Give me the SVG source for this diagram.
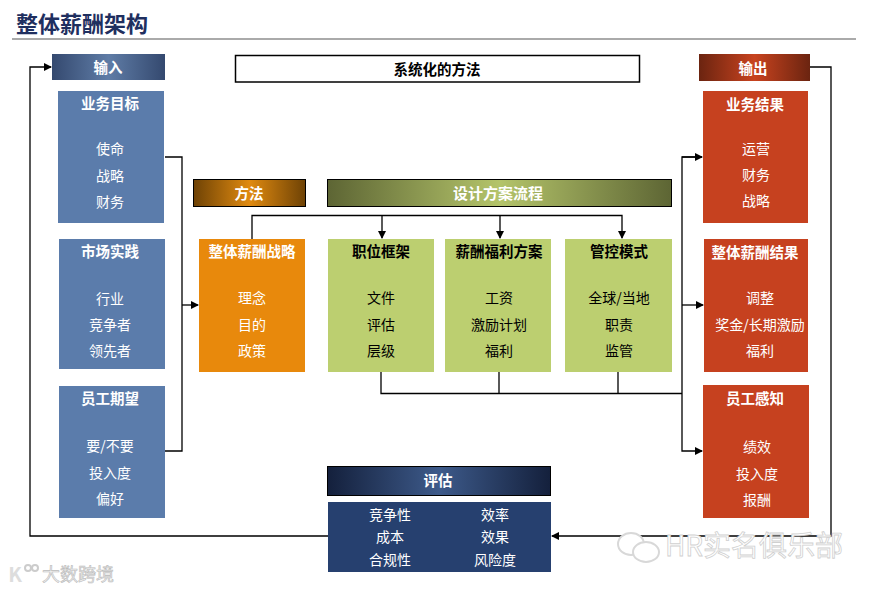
<svg xmlns="http://www.w3.org/2000/svg" width="869" height="591" viewBox="0 0 869 591">
<style>
text{font-family:"Noto Sans CJK SC","Liberation Sans",sans-serif;text-anchor:middle;font-size:14px;fill:#fff}
.h{font-weight:700;font-size:14.500px}
.k{fill:#000}
.c{fill:none;stroke:#000;stroke-width:1.300}
.blue{fill:#5b7cab}.red{fill:#c6411f}.or{fill:#e8890c}.gr{fill:#bccf70}.nv{fill:#26406f}
</style>
<defs>
<linearGradient id="gBlue"><stop offset="0" stop-color="#34496f"/><stop offset=".5" stop-color="#5f7ca6"/><stop offset="1" stop-color="#34496f"/></linearGradient>
<linearGradient id="gRed"><stop offset="0" stop-color="#6b2410"/><stop offset=".5" stop-color="#c8431f"/><stop offset="1" stop-color="#6b2410"/></linearGradient>
<linearGradient id="gOr"><stop offset="0" stop-color="#6e4205"/><stop offset=".5" stop-color="#e08a10"/><stop offset="1" stop-color="#6e4205"/></linearGradient>
<linearGradient id="gGr"><stop offset="0" stop-color="#5d6534"/><stop offset=".5" stop-color="#b4c46a"/><stop offset="1" stop-color="#5d6534"/></linearGradient>
<linearGradient id="gNv"><stop offset="0" stop-color="#14203c"/><stop offset=".5" stop-color="#3d5a8a"/><stop offset="1" stop-color="#14203c"/></linearGradient>
<marker id="a" markerWidth="8" markerHeight="8" refX="7" refY="4" orient="auto" markerUnits="userSpaceOnUse"><path d="M0 0L8 4L0 8Z" fill="#000"/></marker>
</defs>
<g id="title"><text x="82" y="32" style="font-size:22px;fill:#1f2f5f;font-weight:700">整体薪酬架构</text><rect x="12" y="38" width="844" height="2" fill="#aaa"/></g>
<g id="connectors">
<path class="c" d="M165 157H182V451H165"/>
<path class="c" d="M182 305H198" marker-end="url(#a)"/>
<path class="c" d="M328 536H30V67H51" marker-end="url(#a)"/>
<path class="c" d="M810 67H831V536H552" marker-end="url(#a)"/>
<path class="c" d="M702 157H682V451H702" marker-end="url(#a)"/>
<path class="c" d="M682 157H702" marker-end="url(#a)"/>
<path class="c" d="M682 305H703" marker-end="url(#a)"/>
<path class="c" d="M381 372V393.500H682M499 372V393M618 372V393"/>
<path class="c" d="M252 239V215.500H622V238" marker-end="url(#a)"/>
<path class="c" d="M382 216V238" marker-end="url(#a)"/>
<path class="c" d="M500 216V238" marker-end="url(#a)"/>
</g>
<g id="input"><rect x="52" y="54" width="113" height="26" fill="url(#gBlue)"/><text class="h" x="108" y="73">输入</text></g>
<g id="system"><rect x="235.500" y="55.500" width="404" height="26.500" fill="#fff" stroke="#000" stroke-width="1.500"/><text class="h" x="437" y="75" style="fill:#000;font-size:14.500px">系统化的方法</text></g>
<g id="output"><rect x="699" y="54" width="111" height="27" fill="url(#gRed)"/><text class="h" x="753" y="74">输出</text></g>
<g id="method"><rect x="193.500" y="179.500" width="112" height="27" fill="url(#gOr)" stroke="#000"/><text class="h" x="249" y="199">方法</text></g>
<g id="design"><rect x="327.500" y="179.500" width="344" height="27" fill="url(#gGr)" stroke="#000"/><text class="h" x="498" y="199" style="font-size:15px">设计方案流程</text></g>
<g id="biz-goal"><rect class="blue" x="58" y="91" width="106" height="132"/><text class="h" x="110" y="109">业务目标</text><text x="110" y="154">使命</text><text x="110" y="181">战略</text><text x="110" y="207">财务</text></g>
<g id="market"><rect class="blue" x="59" y="239" width="106" height="130"/><text class="h" x="110" y="257">市场实践</text><text x="110" y="304">行业</text><text x="110" y="330">竞争者</text><text x="110" y="356">领先者</text></g>
<g id="employee-exp"><rect class="blue" x="59" y="386" width="106" height="132"/><text class="h" x="110" y="404">员工期望</text><text x="110" y="451">要/不要</text><text x="110" y="478">投入度</text><text x="110" y="504">偏好</text></g>
<g id="strategy"><rect class="or" x="199" y="239" width="106" height="133"/><text class="h" x="252" y="257">整体薪酬战略</text><text x="252" y="303">理念</text><text x="252" y="330">目的</text><text x="252" y="356">政策</text></g>
<g id="job"><rect class="gr" x="328" y="239" width="106" height="133"/><text class="h" x="381" y="257" style="fill:#000">职位框架</text><text x="381" y="303" style="fill:#000">文件</text><text x="381" y="330" style="fill:#000">评估</text><text x="381" y="356" style="fill:#000">层级</text></g>
<g id="pay"><rect class="gr" x="445" y="239" width="106" height="133"/><text class="h" x="499" y="257" style="fill:#000">薪酬福利方案</text><text x="499" y="303" style="fill:#000">工资</text><text x="499" y="330" style="fill:#000">激励计划</text><text x="499" y="356" style="fill:#000">福利</text></g>
<g id="control"><rect class="gr" x="565" y="239" width="107" height="133"/><text class="h" x="619" y="257" style="fill:#000">管控模式</text><text x="619" y="303" style="fill:#000">全球/当地</text><text x="619" y="330" style="fill:#000">职责</text><text x="619" y="356" style="fill:#000">监管</text></g>
<g id="biz-result"><rect class="red" x="703" y="91" width="105" height="132"/><text class="h" x="755" y="110">业务结果</text><text x="756" y="154">运营</text><text x="756" y="180">财务</text><text x="756" y="206">战略</text></g>
<g id="pay-result"><rect class="red" x="704" y="239" width="104" height="133"/><text class="h" x="755" y="258">整体薪酬结果</text><text x="760" y="303">调整</text><text x="760" y="330">奖金/长期激励</text><text x="760" y="356">福利</text></g>
<g id="perception"><rect class="red" x="703" y="385" width="106" height="133"/><text class="h" x="755" y="404">员工感知</text><text x="757" y="452">绩效</text><text x="757" y="479">投入度</text><text x="757" y="505">报酬</text></g>
<g id="eval"><rect x="327.500" y="466.500" width="223" height="29" fill="url(#gNv)" stroke="#000"/><text class="h" x="438" y="486">评估</text></g>
<g id="eval-body"><rect class="nv" x="328" y="502" width="223" height="70"/><text x="390" y="520">竞争性</text><text x="495" y="520">效率</text><text x="390" y="542">成本</text><text x="495" y="542">效果</text><text x="390" y="565">合规性</text><text x="495" y="565">风险度</text></g>
<g id="watermark"><ellipse cx="631" cy="544" rx="13" ry="11" fill="#fff" stroke="#d8d8d8" stroke-width="2"/><ellipse cx="646" cy="552" rx="13" ry="10" fill="#fff" stroke="#d8d8d8" stroke-width="2"/>
<text x="754" y="556" style="font-size:28px;fill:#fff;stroke:#d0d0d0;stroke-width:.8">HR实名俱乐部</text>
<text x="15" y="582" style="font-size:20px;font-weight:700;fill:#ddd">K</text><circle cx="28" cy="568" r="3" fill="none" stroke="#ccc" stroke-width="2"/><circle cx="35" cy="568" r="3" fill="none" stroke="#ccc" stroke-width="2"/>
<text x="78" y="581" style="font-size:18px;fill:#eee;stroke:#bbb;stroke-width:.6">大数跨境</text></g>
</svg>
